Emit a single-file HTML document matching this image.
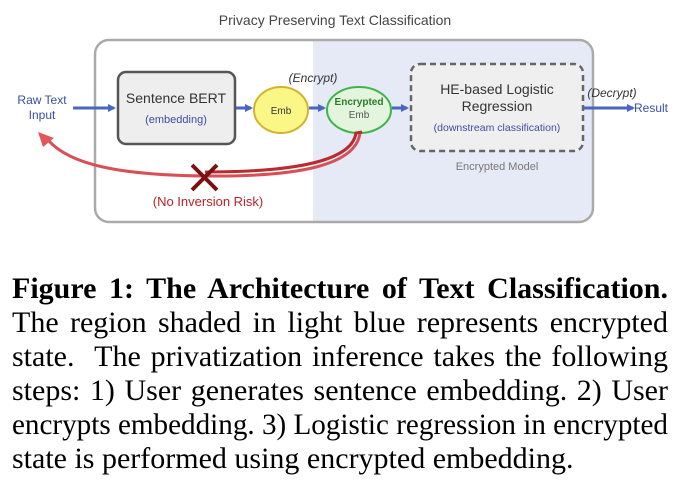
<!DOCTYPE html>
<html><head><style>
html,body{margin:0;padding:0;background:#fff;width:688px;height:503px;overflow:hidden;position:relative}
.cap{position:absolute;left:12px;width:656px;top:272px;font-family:"Liberation Serif",serif;font-size:30px;line-height:34px;color:#000}
.cap div{text-align:justify;text-align-last:justify;white-space:nowrap;width:656px}
.cap div.l{text-align-last:left}
.cap span{display:inline-block;transform-origin:0 50%}
</style></head><body>
<svg width="688" height="260" style="position:absolute;left:0;top:0" font-family="Liberation Sans, DejaVu Sans, sans-serif">
<defs>
<clipPath id="c"><rect x="95" y="40" width="498" height="182" rx="14"/></clipPath>
<marker id="a" markerWidth="8" markerHeight="8" refX="6" refY="4" orient="auto" markerUnits="userSpaceOnUse"><path d="M0,0 L8,4 L0,8 Z" fill="#4a66c4"/></marker>
</defs>
<text x="335" y="25" text-anchor="middle" font-size="14" fill="#444">Privacy Preserving Text Classification</text>
<rect x="313" y="40" width="280" height="182" fill="#e6eaf6" clip-path="url(#c)"/>
<rect x="95" y="40" width="498" height="182" rx="14" fill="none" stroke="#aaa" stroke-width="2.5"/>
<rect x="118" y="72" width="117" height="72" rx="8" fill="#eee" stroke="#555" stroke-width="2.5"/>
<text x="176" y="103" text-anchor="middle" font-size="14" fill="#333">Sentence BERT</text>
<text x="176" y="123" text-anchor="middle" font-size="11" fill="#3a4fa0">(embedding)</text>
<rect x="411" y="64" width="172" height="87" rx="9" fill="#efefef" stroke="#666" stroke-width="2.5" stroke-dasharray="6,4"/>
<text x="497" y="94" text-anchor="middle" font-size="14" fill="#333">HE-based Logistic</text>
<text x="497" y="111" text-anchor="middle" font-size="14" fill="#333">Regression</text>
<text x="497" y="131" text-anchor="middle" font-size="10.5" fill="#3a4fa0">(downstream classification)</text>
<text x="497" y="170" text-anchor="middle" font-size="11" fill="#777">Encrypted Model</text>
<ellipse cx="281" cy="110" rx="27" ry="23" fill="#fbf786" stroke="#d5b130" stroke-width="2"/>
<text x="281" y="114" text-anchor="middle" font-size="10" fill="#333">Emb</text>
<ellipse cx="359" cy="110" rx="32" ry="23" fill="#e3f5dc" stroke="#3cb54a" stroke-width="2"/>
<text x="359" y="105" text-anchor="middle" font-size="10" fill="#2d7a2d" font-weight="bold">Encrypted</text>
<text x="359" y="118" text-anchor="middle" font-size="10" fill="#555">Emb</text>
<text x="313" y="82" text-anchor="middle" font-size="12" font-style="italic" fill="#333">(Encrypt)</text>
<text x="612" y="97" text-anchor="middle" font-size="12" font-style="italic" fill="#333">(Decrypt)</text>
<text x="42" y="104" text-anchor="middle" font-size="12" fill="#3a4fa0">Raw Text</text>
<text x="42" y="119" text-anchor="middle" font-size="12" fill="#3a4fa0">Input</text>
<text x="651" y="112" text-anchor="middle" font-size="12" fill="#3a4fa0">Result</text>
<g stroke="#4a66c4" stroke-width="3" marker-end="url(#a)">
<line x1="73" y1="108" x2="114" y2="108"/>
<line x1="236" y1="108" x2="251" y2="108"/>
<line x1="309" y1="108" x2="324" y2="108"/>
<line x1="392" y1="108" x2="407" y2="108"/>
<line x1="584" y1="108" x2="633" y2="108"/>
</g>
<path d="M360,133 C356,165 300,177 205,176 C120,175 70,165 48,140" fill="none" stroke="#d85055" stroke-width="3"/>
<path d="M362,132 L356,133 C352,160 300,172 205,172" fill="none" stroke="#b82b30" stroke-width="3"/>
<path d="M38,132 L54,138 L43,147 Z" fill="#e0575c"/>
<g stroke="#7a1010" stroke-width="4"><line x1="192" y1="165" x2="217" y2="190"/><line x1="217" y1="165" x2="192" y2="190"/></g>
<text x="208" y="206" text-anchor="middle" font-size="13" fill="#b8232a">(No Inversion Risk)</text>
</svg>
<div class="cap">
<div><b>Figure 1: The Architecture of Text Classification.</b></div>
<div>The region shaded in light blue represents encrypted</div>
<div>state. &nbsp;The privatization inference takes the following</div>
<div>steps: 1) User generates sentence embedding. 2) User</div>
<div>encrypts embedding. 3) Logistic regression in encrypted</div>
<div class="l">state is performed using encrypted embedding.</div>
</div>
<script>
document.querySelectorAll('.cap div').forEach(function(d){
  var s=document.createElement('span');
  while(d.firstChild) s.appendChild(d.firstChild);
  d.appendChild(s);
  var w=s.getBoundingClientRect().width;
  if(w>656){
    s.style.transform='scaleX('+(656/w)+')';
  }
  d.style.textAlign='left';
  if(!d.classList.contains('l') && w<656){
    // justify: unwrap span
    while(s.firstChild) d.insertBefore(s.firstChild,s);
    d.removeChild(s);
    d.style.textAlign='justify';
  }
});
</script>
</body></html>
